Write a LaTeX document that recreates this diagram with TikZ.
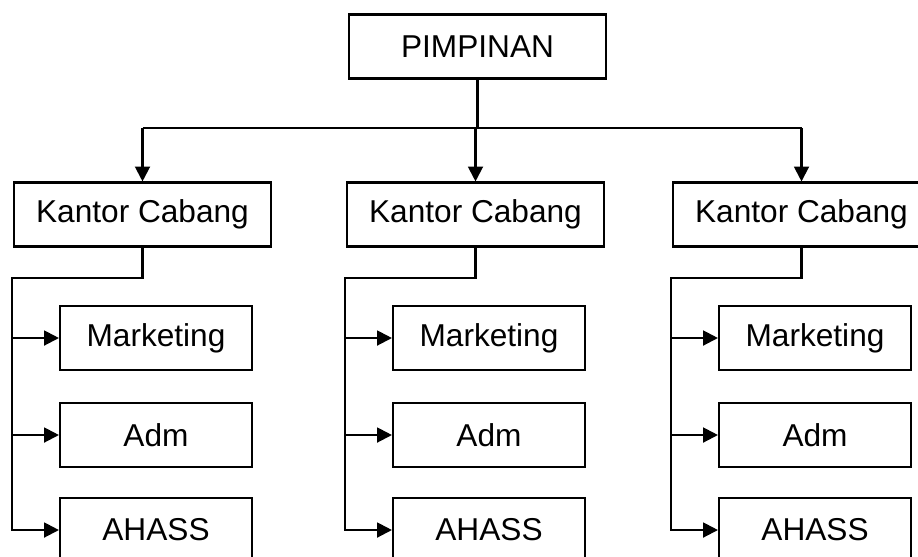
\documentclass[tikz,border=0pt]{standalone}
\usepackage{fontspec}
\setmainfont{Liberation Sans}
\usetikzlibrary{arrows.meta}

\tikzset{
  box/.style={draw, line width=1.2pt, inner sep=0pt, minimum width=5.14cm,
    minimum height=1.28cm, font=\fontsize{18}{22}\selectfont},
  subbox/.style={box, minimum width=3.84cm},
  line/.style={line width=1.2pt},
  arr/.style={line, -{Triangle[length=8.5pt,width=8.5pt]}}
}

\begin{document}
\begin{tikzpicture}[x=0.02cm, y=-0.02cm]
  \useasboundingbox (0,0) rectangle (918,556);

  % Top
  \node[box] (pim) at (477.5,46.5) {PIMPINAN};
  \coordinate (bus) at (477.5,128);

  % Branch offices with their units
  \foreach \n/\x in {kl/142.5, km/475.5, kr/801.5} {
    \node[box] (\n) at (\x,214.5) {Kantor Cabang};
    \node[subbox] (\n-m) at ({\x+13.5},338) {Marketing};
    \node[subbox] (\n-a) at ({\x+13.5},435) {Adm};
    \node[subbox] (\n-h) at ({\x+13.5},530) {AHASS};
    \coordinate (\n-b) at ({\x-130.5},278);

    \draw[arr] (\n.north |- bus) -- (\n.north);
    \draw[arr] (\n.south) |- (\n-b) |- (\n-h.west);
    \draw[arr] (\n-b |- \n-m.west) -- (\n-m.west);
    \draw[arr] (\n-b |- \n-a.west) -- (\n-a.west);
  }

  % Bus
  \draw[line] (pim.south) -- (bus);
  \draw[line] (kl.north |- bus) -- (kr.north |- bus);
\end{tikzpicture}
\end{document}
